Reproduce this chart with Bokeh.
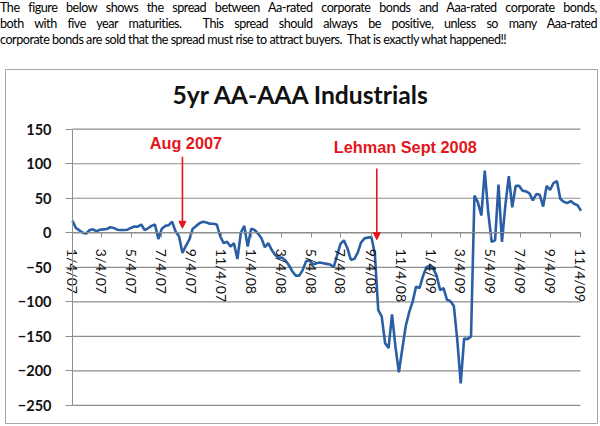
import pandas as pd
from bokeh.plotting import figure
from bokeh.models import Div, FixedTicker, Label, Arrow, NormalHead, Range1d
from bokeh.layouts import column
from bokeh.embed import file_html
from bokeh.resources import INLINE

# weekly spread readings (bp), first week 2007-01-04
start_date = "2007-01-04"
spread = [
    17.5, 7, 3.5, 0, -1, 4, 5, 2, 4.5, 5,
    5.5, 8, 7, 4.5, 4, 4, 4.5, 7, 9, 9,
    12, 4, 6.5, 10, 12, -9, 6, 10, 11, 16,
    2, -5, -29, -19, -10, 6, 10, 14, 16, 15,
    13, 13, 12, -5, -15, -13, -20, -15, -38, 0,
    10, -20, 6, 4, -1, -8, -21, -15, -25, -32,
    -36, -36, -40, -47, -56, -62, -62, -54, -41, -40,
    -46, -44, -43, -44, -45, -46, -50, -33, -16, -11,
    -22, -39, -38, -29, -14, -8, -7, -6, -30, -112,
    -121, -160, -167, -118, -165, -202, -168, -135, -115, -100,
    -78, -80, -63, -50, -48, -52, -62, -83, -80, -97,
    -99, -106, -155, -218, -153, -154, -150, 54, 44, 25,
    90, 30, -13, -11, 70, -13, 40, 82, 37, 68,
    68, 61, 60, 57, 47, 56, 55, 38, 68, 62,
    72, 75, 49, 45, 43, 46, 42, 40, 32,
]

tick_dates = [
    "2007-01-04", "2007-03-04", "2007-05-04", "2007-07-04", "2007-09-04", "2007-11-04",
    "2008-01-04", "2008-03-04", "2008-05-04", "2008-07-04", "2008-09-04", "2008-11-04",
    "2009-01-04", "2009-03-04", "2009-05-04", "2009-07-04", "2009-09-04", "2009-11-04",
]
tick_labels = [
    "1/4/07", "3/4/07", "5/4/07", "7/4/07", "9/4/07", "11/4/07",
    "1/4/08", "3/4/08", "5/4/08", "7/4/08", "9/4/08", "11/4/08",
    "1/4/09", "3/4/09", "5/4/09", "7/4/09", "9/4/09", "11/4/09",
]
y_ticks = [-250, -200, -150, -100, -50, 0, 50, 100, 150]

event_names = ["Aug 2007", "Lehman Sept 2008"]
event_dates = ["2007-08-16", "2008-09-15"]

intro = [
    "The figure below shows the spread between Aa-rated corporate bonds and Aaa-rated corporate bonds,",
    "both with five year maturities.&nbsp; This spread should always be positive, unless so many Aaa-rated",
    "corporate bonds are sold that the spread must rise to attract buyers.&nbsp; That is exactly what happened!!",
]

RED = "#e3161b"
BLUE = "#2a5fa5"
GREY = "#8e8e8e"


def ms(d):
    return pd.Timestamp(d).value / 1e6


dates = pd.date_range(start_date, periods=len(spread), freq="7D")
start = pd.Timestamp(start_date)
tick_ms = [ms(d) for d in tick_dates]

rows = []
for i, line in enumerate(intro):
    last = "justify" if i < len(intro) - 1 else "left"
    rows.append(f'<div style="text-align:justify;text-align-last:{last};">{line}</div>')
div = Div(
    text='<div style="font-family:Lato;font-size:12.6px;letter-spacing:-0.48px;'
    'line-height:16px;color:#000;width:597px;">' + "".join(rows) + "</div>",
    width=600, height=66, margin=(0, 0, 0, 0),
)

p = figure(
    width=600, height=360, title=None,
    x_axis_type="datetime",
    x_range=Range1d(ms(start - pd.Timedelta(days=136.5)), ms(start + pd.Timedelta(days=1069.7))),
    y_range=Range1d(-276.2, 236.5),
    output_backend="svg", toolbar_location=None,
    min_border_left=5, min_border_right=3, min_border_top=3, min_border_bottom=3,
    margin=(0, 0, 0, 0),
)
p.grid.visible = False
p.outline_line_color = "#a6a6a6"
p.outline_line_width = 1

# gridlines only across the plot area
p.segment(x0=ms(start), x1=tick_ms[-1], y0=y_ticks, y1=y_ticks, line_color=GREY, line_width=1.2)

p.line(dates, spread, line_color=BLUE, line_width=2.6)

ya = p.yaxis[0]
ya.fixed_location = ms(start)
ya.ticker = FixedTicker(ticks=y_ticks)
ya.bounds = (y_ticks[0], y_ticks[-1])
ya.major_tick_out = 7
ya.major_tick_in = 0
ya.minor_tick_line_color = None
ya.axis_line_color = GREY
ya.major_tick_line_color = GREY
ya.major_label_standoff = 14
ya.major_label_text_font = "Lato"
ya.major_label_text_font_style = "bold"
ya.major_label_text_font_size = "14.5px"
ya.major_label_text_color = "#111111"

xa = p.xaxis[0]
xa.fixed_location = 0
xa.ticker = FixedTicker(ticks=tick_ms)
xa.major_label_overrides = dict(zip(tick_ms, tick_labels))
xa.major_label_orientation = "vertical"
xa.bounds = (ms(start), tick_ms[-1])
xa.major_tick_out = 5
xa.major_tick_in = 0
xa.minor_tick_line_color = None
xa.axis_line_color = GREY
xa.major_tick_line_color = GREY
xa.major_label_standoff = 11
xa.major_label_text_font = "Lato"
xa.major_label_text_font_size = "14px"
xa.major_label_text_color = "#111111"

p.add_layout(Label(
    x=ms("2008-04-14"), y=200.5, text="5yr AA-AAA Industrials",
    text_align="center", text_baseline="alphabetic",
    text_font="Lato", text_font_style="bold", text_font_size="24.7px", text_color="#111111",
))

# annotation text and arrows for the two events
label_pos = [(ms("2007-08-23"), 130.2), (ms("2008-11-12"), 123.6)]
arrow_span = [(110.0, 6.5), (93.0, -10.0)]
for name, d, (lx, ly), (y0, y1) in zip(event_names, event_dates, label_pos, arrow_span):
    p.add_layout(Label(
        x=lx, y=ly, text=name, text_align="center", text_baseline="alphabetic",
        text_font="Liberation Sans", text_font_style="bold", text_font_size="16.3px",
        text_color=RED,
    ))
    p.add_layout(Arrow(
        end=NormalHead(size=7, fill_color=RED, line_color=RED),
        x_start=ms(d), y_start=y0, x_end=ms(d), y_end=y1,
        line_color=RED, line_width=1.6,
    ))

page = column(div, p, margin=(0, 0, 0, 0))
open("out.html", "w").write(file_html(page, INLINE))
